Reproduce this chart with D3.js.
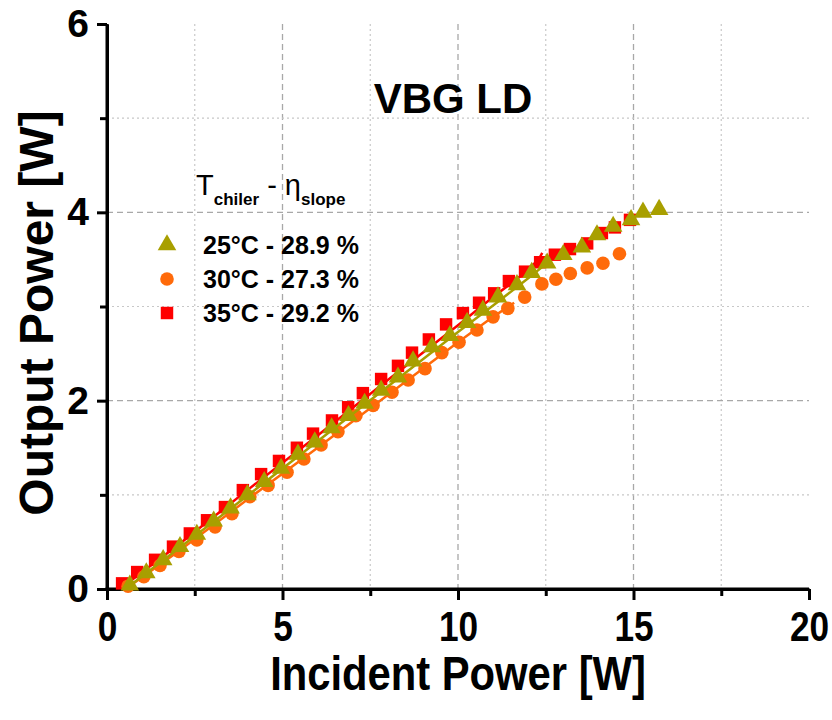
<!DOCTYPE html>
<html><head><meta charset="utf-8">
<script src="https://cdn.jsdelivr.net/npm/d3@7"></script>
<style>body{margin:0;background:#fff}svg{display:block}text{font-family:Arial,"Liberation Sans",sans-serif}</style>
</head><body>
<svg id="c" width="832" height="720"></svg>
<script>
// ---- data ----
const xTicks = [0, 5, 10, 15, 20];
const yTicks = [0, 2, 4, 6];
const seriesNames = ["25°C - 28.9 %", "30°C - 27.3 %", "35°C - 29.2 %"];
const colors = ["#A89F00", "#FF6A0A", "#FF0000"];

const x25 = [0.65,1.12,1.6,2.08,2.56,3.04,3.52,4.0,4.48,4.96,5.44,5.92,6.4,6.88,7.34,7.81,8.29,8.72,9.26,9.77,10.26,10.71,11.14,11.68,12.1,12.54,13.0,13.53,13.96,14.42,14.93,15.27,15.73];
const y25 = [0.04,0.17,0.31,0.45,0.58,0.72,0.86,1.00,1.14,1.28,1.43,1.56,1.71,1.84,1.97,2.11,2.25,2.42,2.57,2.69,2.83,2.96,3.10,3.23,3.36,3.46,3.55,3.63,3.76,3.85,3.92,4.00,4.03];

const x30 = [0.6,1.05,1.51,2.05,2.56,3.08,3.56,4.07,4.59,5.13,5.61,6.1,6.58,7.09,7.58,8.12,8.58,9.06,9.54,10.03,10.54,11.0,11.42,11.9,12.39,12.79,13.2,13.68,14.13,14.6];
const y30 = [0.03,0.13,0.25,0.40,0.52,0.66,0.80,0.98,1.10,1.24,1.38,1.53,1.67,1.84,1.95,2.09,2.22,2.34,2.51,2.62,2.75,2.89,2.98,3.10,3.24,3.29,3.35,3.41,3.46,3.56];

const x35 = [0.43,0.86,1.37,1.88,2.36,2.85,3.36,3.87,4.39,4.9,5.41,5.87,6.41,6.87,7.29,7.81,8.29,8.69,9.17,9.66,10.14,10.6,11.03,11.45,11.91,12.34,12.76,13.19,13.68,14.1,14.47,14.9];
const y35 = [0.06,0.18,0.31,0.45,0.59,0.73,0.87,1.05,1.22,1.36,1.50,1.65,1.79,1.93,2.08,2.23,2.37,2.51,2.65,2.81,2.93,3.04,3.14,3.27,3.37,3.47,3.55,3.61,3.67,3.78,3.84,3.92];

// measured lines (lower range)
const lx25 = [0.6, 2.0, 4.0, 6.0, 8.0, 10.0, 11.0, 12.0, 12.5];
const ly25 = [0.02, 0.42, 0.99, 1.57, 2.15, 2.73, 3.01, 3.30, 3.45];
const lx30 = [0.6, 2.0, 4.0, 6.0, 8.0, 10.0, 11.0, 11.6];
const ly30 = [0.02, 0.39, 0.95, 1.50, 2.06, 2.62, 2.89, 3.04];
const lx35 = [0.4, 2.0, 4.0, 6.0, 8.0, 10.0, 11.0, 11.8, 12.1, 12.3, 12.4];
const ly35 = [0.01, 0.46, 1.05, 1.63, 2.22, 2.80, 3.10, 3.33, 3.43, 3.50, 3.57];

// ---- chart ----
const svg = d3.select("#c");
const L = 107, R = 809, T = 24, B = 589;
const x = d3.scaleLinear().domain([0, 20]).range([L, R]);
const y = d3.scaleLinear().domain([0, 6]).range([B, T]);

// grid
const g = svg.append("g");
[2.5,5,7.5,10,12.5,15,17.5].forEach(v => {
  const major = v % 5 === 0;
  g.append("line").attr("x1", x(v)).attr("x2", x(v)).attr("y1", T).attr("y2", B)
   .attr("stroke", major ? "#a8a8a8" : "#c8c8c8").attr("stroke-width", major ? 1.3 : 1.2)
   .attr("stroke-dasharray", major ? "6,4" : "2,3");
});
[1,2,3,4,5].forEach(v => {
  const major = v % 2 === 0;
  g.append("line").attr("x1", L).attr("x2", R).attr("y1", y(v)).attr("y2", y(v))
   .attr("stroke", major ? "#a8a8a8" : "#c8c8c8").attr("stroke-width", major ? 1.3 : 1.2)
   .attr("stroke-dasharray", major ? "6,4" : "2,3");
});

// axes
const xAx = svg.append("g").attr("transform", `translate(0,${B})`)
  .call(d3.axisBottom(x).tickValues(xTicks).tickSize(11).tickSizeOuter(0).tickPadding(11).tickFormat(d3.format("d")));
const xMin = svg.append("g").attr("transform", `translate(0,${B})`)
  .call(d3.axisBottom(x).tickValues([2.5,7.5,12.5,17.5]).tickSize(7).tickSizeOuter(0).tickFormat(""));
const yAx = svg.append("g").attr("transform", `translate(${L},0)`)
  .call(d3.axisLeft(y).tickValues(yTicks).tickSize(10).tickSizeOuter(0).tickPadding(8).tickFormat(d3.format("d")));
const yMin = svg.append("g").attr("transform", `translate(${L},0)`)
  .call(d3.axisLeft(y).tickValues([1,3,5]).tickSize(7).tickSizeOuter(0).tickFormat(""));
[xAx, xMin, yAx, yMin].forEach(a => {
  a.select(".domain").attr("stroke", "#000").attr("stroke-width", 3);
  a.selectAll(".tick line").attr("stroke", "#000").attr("stroke-width", 3);
});
xAx.select(".domain").attr("d", `M${L - 1.5},0H${R}`);
yAx.select(".domain").attr("d", `M0,${B + 1.5}V${T}`);
xAx.selectAll(".tick text").attr("font-size", 42).attr("font-weight", "bold").attr("fill", "#000")
  .attr("transform", "scale(0.84,1)");
yAx.selectAll(".tick text").attr("font-size", 39).attr("font-weight", "bold").attr("fill", "#000");

// axis titles
svg.append("text").attr("transform", `translate(458,690) scale(0.87,1)`).attr("text-anchor", "middle")
  .attr("font-size", 48).attr("font-weight", "bold").text("Incident Power [W]");
svg.append("text").attr("transform", `translate(53,313) rotate(-90)`).attr("text-anchor", "middle")
  .attr("font-size", 48).attr("font-weight", "bold").text("Output Power [W]");

// title
svg.append("text").attr("x", 453).attr("y", 113).attr("text-anchor", "middle")
  .attr("font-size", 42).attr("font-weight", "bold").text("VBG LD");

// marks
const line = d3.line().x(d => x(d[0])).y(d => y(d[1]));
const zip = (a, b) => a.map((v, i) => [v, b[i]]);
const sym = [d3.symbolTriangle, d3.symbolCircle, d3.symbolSquare];
const symSize = [150, 145, 155];
const data = [zip(x25, y25), zip(x30, y30), zip(x35, y35)];
const lines = [zip(lx25, ly25), zip(lx30, ly30), zip(lx35, ly35)];

[2, 1, 0].forEach(i => {
  svg.append("g").selectAll("path").data(data[i]).join("path")
    .attr("transform", d => `translate(${x(d[0])},${y(d[1])})`)
    .attr("d", d3.symbol().type(sym[i]).size(symSize[i])).attr("fill", colors[i]);
  svg.append("path").datum(lines[i]).attr("d", line).attr("fill", "none")
    .attr("stroke", colors[i]).attr("stroke-width", 2.5);
});

// legend
const lg = svg.append("g");
const hdr = lg.append("text").attr("x", 196).attr("y", 195).attr("font-size", 29);
hdr.append("tspan").text("T");
hdr.append("tspan").attr("dy", 10).attr("font-size", 17).attr("font-weight", "bold").text("chiler");
hdr.append("tspan").attr("dy", -10).text(" - ");
hdr.append("tspan").text("η");
hdr.append("tspan").attr("dy", 10).attr("font-size", 17).attr("font-weight", "bold").text("slope");
const rowY = [245, 279, 313];
[0, 1, 2].forEach(i => {
  lg.append("path").attr("transform", `translate(167,${rowY[i]})`)
    .attr("d", d3.symbol().type(sym[i]).size(symSize[i])).attr("fill", colors[i]);
  lg.append("text").attr("x", 203).attr("y", rowY[i] + 9).attr("font-size", 25)
    .attr("font-weight", "bold").text(seriesNames[i]);
});
</script>
</body></html>
